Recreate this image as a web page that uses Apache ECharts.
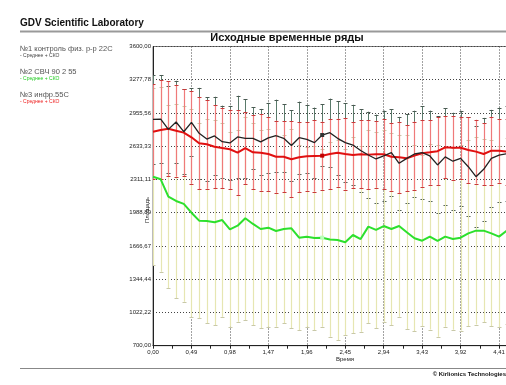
<!DOCTYPE html>
<html><head><meta charset="utf-8">
<script src="https://cdn.jsdelivr.net/npm/echarts@6/dist/echarts.min.js"></script>
<style>html,body{margin:0;padding:0;background:#fff}#c{width:506px;height:385px}</style>
</head><body><div id="c"></div>
<script>
// ---- data ----
const time = [0.000,0.098,0.196,0.294,0.392,0.490,0.588,0.686,0.784,0.882,0.980,1.078,1.176,1.274,1.372,1.470,1.568,1.666,1.764,1.862,1.960,2.058,2.156,2.254,2.352,2.450,2.548,2.646,2.744,2.842,2.940,3.038,3.136,3.234,3.332,3.430,3.528,3.626,3.724,3.822,3.920,4.018,4.116,4.214,4.312,4.410,4.508];
// №1 контроль (black)
const mean1 = [2894,2897,2797,2868,2774,2865,2759,2703,2733,2677,2665,2723,2710,2710,2675,2715,2735,2710,2640,2716,2700,2668,2742,2765,2710,2668,2645,2592,2548,2510,2539,2571,2468,2516,2558,2571,2539,2452,2530,2488,2516,2435,2338,2410,2516,2548,2560];
const sd1   = [430,427,420,400,410,330,440,405,380,350,360,400,380,300,320,340,350,330,340,350,330,340,300,330,360,380,390,400,420,430,440,423,450,430,420,452,440,470,471,470,460,480,490,498,470,460,460];
// №2 СВЧ (green)
const mean2 = [2338,2313,2144,2103,2074,1989,1912,1909,1896,1918,1828,1863,1935,1880,1831,1844,1812,1831,1838,1747,1757,1744,1747,1730,1725,1702,1773,1734,1854,1822,1860,1831,1860,1799,1741,1718,1757,1715,1757,1734,1747,1789,1815,1815,1789,1757,1815];
const sd2   = [856,896,885,941,947,1008,943,989,995,937,944,930,986,979,959,960,928,911,966,895,873,892,863,943,970,900,953,900,937,950,927,930,879,940,900,830,900,928,873,880,900,900,910,890,900,880,900];
// №3 инфр. (red)
const mean3 = [2774,2791,2803,2784,2765,2720,2662,2652,2629,2616,2604,2571,2616,2575,2571,2558,2532,2532,2507,2526,2536,2539,2542,2558,2571,2558,2548,2555,2552,2555,2555,2532,2526,2516,2542,2565,2574,2585,2623,2618,2618,2597,2581,2558,2590,2590,2581];
const sd3   = [460,480,460,445,420,450,445,430,400,390,385,410,350,360,370,360,350,345,370,340,335,345,330,340,330,345,320,330,335,325,340,330,345,320,330,325,315,330,300,310,300,320,310,300,330,310,320];
const yTickLabels = ['700,00','1022,22','1344,44','1666,67','1988,89','2311,11','2633,33','2955,56','3277,78','3600,00'];
const seriesNames = ['№1 контроль физ. р-р 22С','№2 СВЧ 90 2 55','№3 инфр.55С'];
const subLabel = '- Среднее + СКО';
const markIdx = 22;

const FONT = 'Liberation Sans, Arial, sans-serif';

function errorBars(mean, sd, color, capColor, width, z) {
  return {
    type: 'custom', z: z, clip: true, silent: true, animation: false,
    data: time.map((t, i) => [t, mean[i] - sd[i], mean[i] + sd[i]]),
    encode: { x: 0, y: [1, 2] },
    renderItem: function (params, api) {
      const lo = api.coord([api.value(0), api.value(1)]);
      const hi = api.coord([api.value(0), api.value(2)]);
      const x = Math.round(lo[0]) + 0.5;
      const w = 2;
      return { type: 'group', children: [
        { type: 'line', shape: { x1: x, y1: lo[1], x2: x, y2: hi[1] }, style: { stroke: color, lineWidth: width } },
        { type: 'line', shape: { x1: x - w, y1: Math.round(hi[1]) + 0.5, x2: x + w, y2: Math.round(hi[1]) + 0.5 }, style: { stroke: capColor, lineWidth: 1 } },
        { type: 'line', shape: { x1: x - w, y1: Math.round(lo[1]) + 0.5, x2: x + w, y2: Math.round(lo[1]) + 0.5 }, style: { stroke: capColor, lineWidth: 1 } }
      ]};
    }
  };
}
function meanLine(mean, color, width, markColor, z) {
  return {
    type: 'line', z: z, animation: false, silent: true,
    data: time.map((t, i) => [t, mean[i]]),
    showSymbol: true, symbol: 'rect',
    symbolSize: function (v, p) { return p.dataIndex === markIdx ? 4 : 0; },
    itemStyle: { color: markColor },
    lineStyle: { color: color, width: width }
  };
}

const dotted = { color: '#444', width: 1, type: [1, 2] };

const chart = echarts.init(document.getElementById('c'), null, { renderer: 'canvas' });
chart.setOption({
  backgroundColor: '#fff',
  animation: false,
  grid: { left: 153, top: 46.5, width: 384.5, height: 299.2, outerBoundsMode: 'none', containLabel: false,
          show: true, borderColor: '#777', borderWidth: 1, backgroundColor: '#fff' },
  xAxis: {
    type: 'value', min: 0, max: 4.9, interval: 0.49,
    axisLine: { show: true, onZero: false, lineStyle: { color: '#222', width: 1 } },
    axisTick: { show: true, length: 3, lineStyle: { color: '#222' } },
    minorTick: { show: true, splitNumber: 2, length: 3, lineStyle: { color: '#222' } },
    axisLabel: { fontSize: 6, color: '#222', margin: 4, fontFamily: FONT,
      formatter: v => v.toFixed(2).replace('.', ',') },
    splitLine: { show: true, lineStyle: dotted }
  },
  yAxis: [
    { type: 'value', min: 700, max: 3600, position: 'left',
      axisLine: { show: true, lineStyle: { color: '#222', width: 1 } },
      axisTick: { show: false }, axisLabel: { show: false }, splitLine: { show: false } },
    { type: 'value', min: 0, max: 9, interval: 1, position: 'left',
      axisLine: { show: false }, axisTick: { show: false },
      axisLabel: { fontSize: 6, color: '#222', margin: 2, fontFamily: FONT, formatter: v => yTickLabels[v] },
      splitLine: { show: true, lineStyle: dotted } }
  ],
  series: [
    errorBars(mean1, sd1, '#5a7a6a', '#4a5a52', 1, 2),
    errorBars(mean2, sd2, '#e6e6b2', '#c8c8a8', 1.2, 3),
    errorBars(mean3, sd3, '#ef7a7a', '#c83a3a', 1.2, 4),
    meanLine(mean2, '#2de02d', 2, '#b8ffb8', 6),
    meanLine(mean3, '#e01010', 2, '#c00000', 7),
    meanLine(mean1, '#222222', 1.3, '#333333', 8)
  ],
  graphic: [
    { type: 'text', x: 20, y: 23, style: { text: 'GDV Scientific Laboratory', font: 'bold 10px ' + FONT, fill: '#111', verticalAlign: 'middle' } },
    { type: 'line', shape: { x1: 20, y1: 31.5, x2: 506, y2: 31.5 }, style: { stroke: '#999', lineWidth: 2 } },
    { type: 'text', x: 287, y: 38, style: { text: 'Исходные временные ряды', font: 'bold 11px ' + FONT, fill: '#111', align: 'center', verticalAlign: 'middle' } },
    { type: 'text', x: 20, y: 48.5, style: { text: seriesNames[0], font: '7.5px ' + FONT, fill: '#555', verticalAlign: 'middle' } },
    { type: 'text', x: 20, y: 55.8, style: { text: subLabel, font: '5px ' + FONT, fill: '#444', verticalAlign: 'middle' } },
    { type: 'text', x: 20, y: 71.5, style: { text: seriesNames[1], font: '7.5px ' + FONT, fill: '#555', verticalAlign: 'middle' } },
    { type: 'text', x: 20, y: 79, style: { text: subLabel, font: '5px ' + FONT, fill: '#22cc22', verticalAlign: 'middle' } },
    { type: 'text', x: 20, y: 94.5, style: { text: seriesNames[2], font: '7.5px ' + FONT, fill: '#555', verticalAlign: 'middle' } },
    { type: 'text', x: 20, y: 101.7, style: { text: subLabel, font: '5px ' + FONT, fill: '#ee2222', verticalAlign: 'middle' } },
    { type: 'text', x: 147, y: 210, rotation: Math.PI / 2, style: { text: 'Площадь', font: '6px ' + FONT, fill: '#222', align: 'center', verticalAlign: 'middle' } },
    { type: 'text', x: 345, y: 359, style: { text: 'Время', font: '6px ' + FONT, fill: '#222', align: 'center', verticalAlign: 'middle' } },
    { type: 'line', shape: { x1: 20, y1: 368.5, x2: 506, y2: 368.5 }, style: { stroke: '#888', lineWidth: 1 } },
    { type: 'text', x: 506, y: 374, style: { text: '© Kirlionics Technologies', font: 'bold 6px ' + FONT, fill: '#111', align: 'right', verticalAlign: 'middle' } }
  ]
});
</script></body></html>
